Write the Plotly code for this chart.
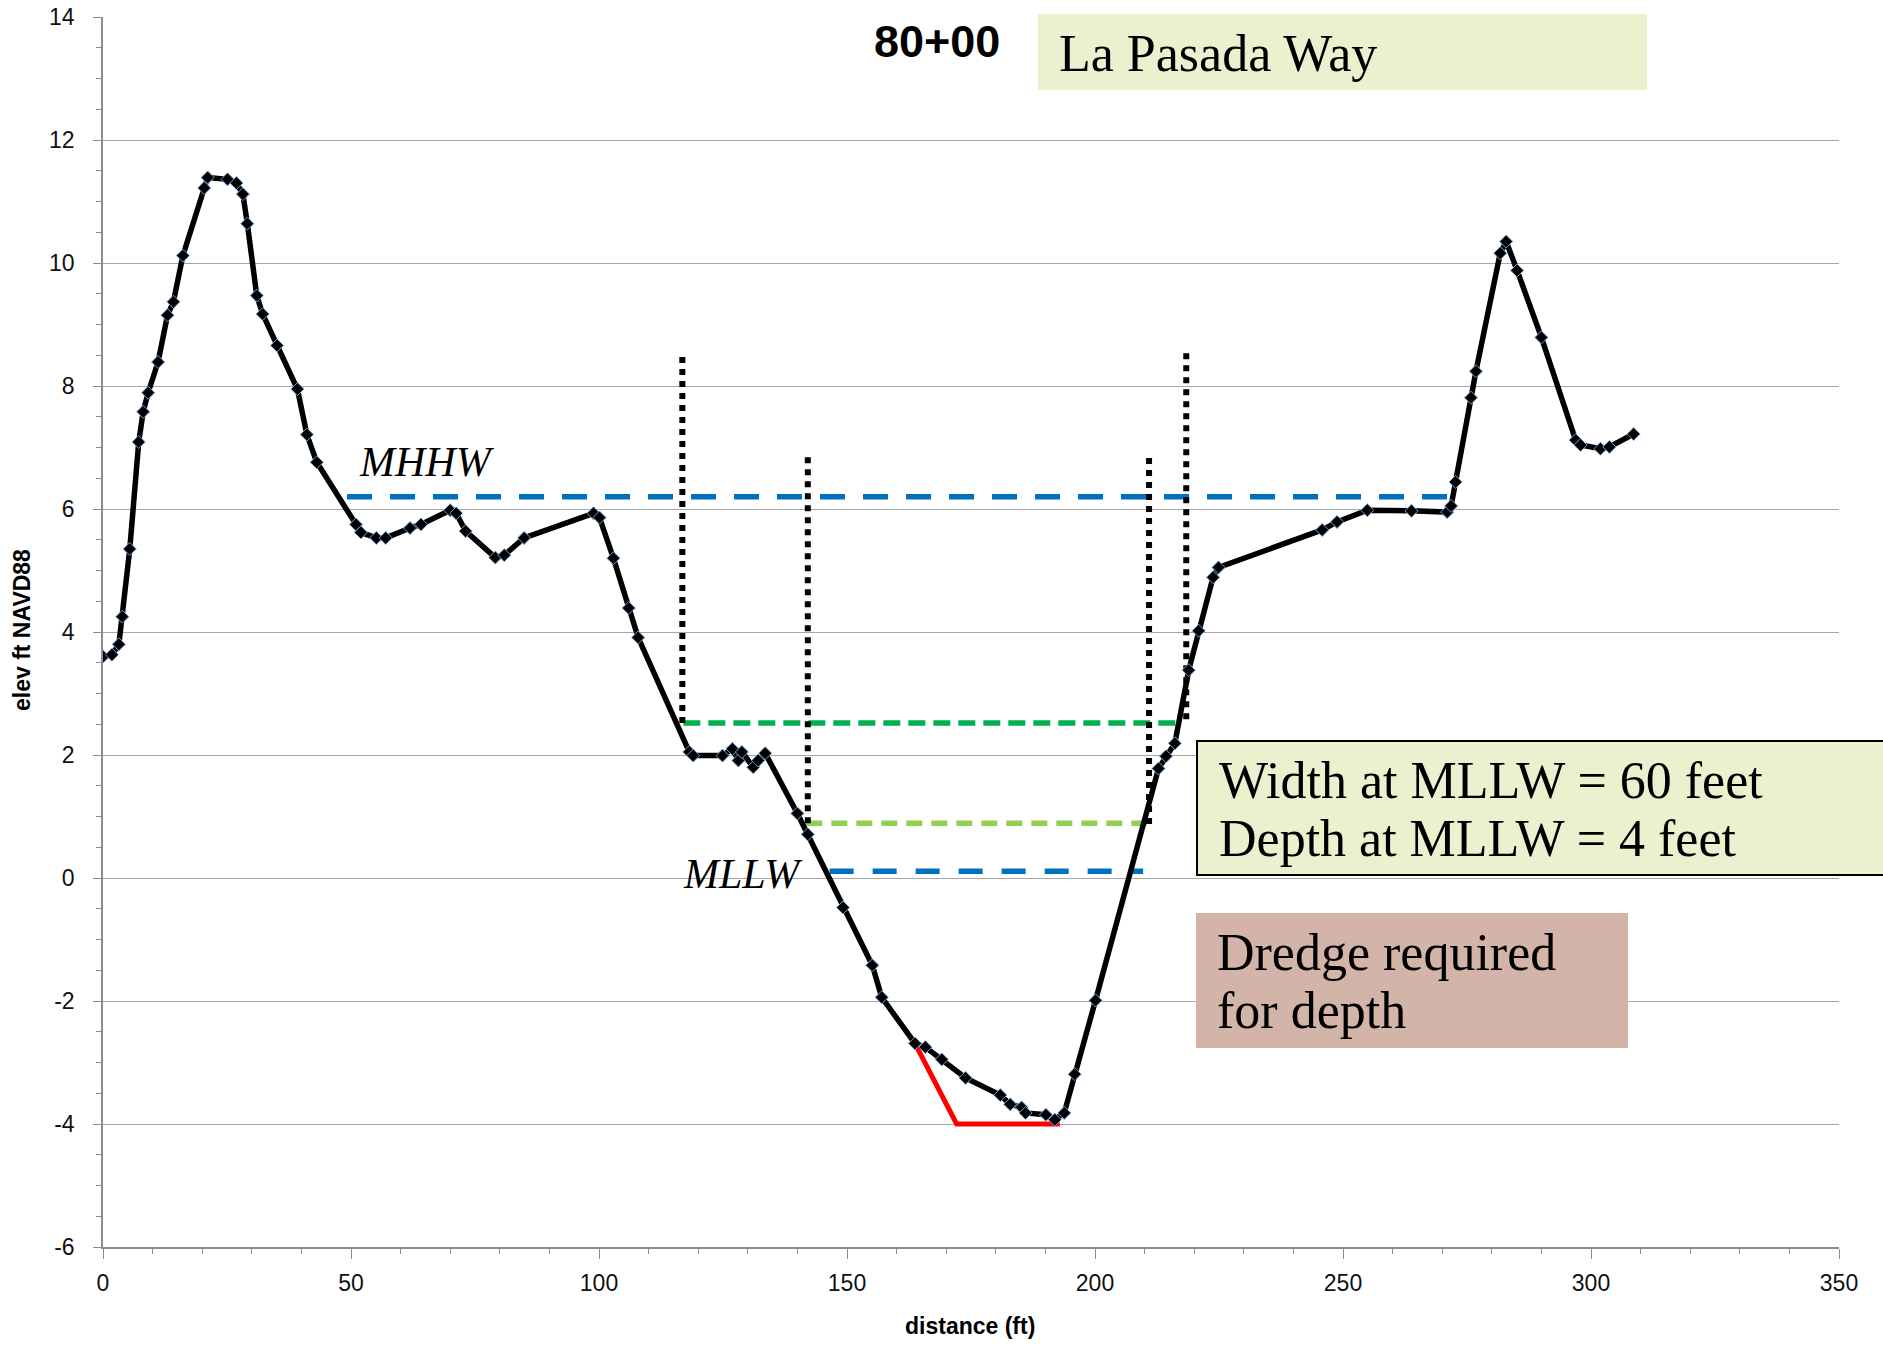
import plotly.graph_objects as go

# ---------------- data ----------------
dist_ft = [0.0, 1.8, 3.2, 3.9, 5.4, 7.2, 8.1, 9.1, 11.1, 13.0, 14.2, 16.1, 20.4, 21.1,
           25.1, 26.9, 28.2, 29.1, 31.0, 32.2, 35.1, 39.2, 41.1, 43.1, 51.0, 52.0,
           55.1, 57.0, 61.9, 64.1, 70.0, 71.2, 73.1, 79.1, 80.9, 84.9, 98.9, 100.1,
           102.9, 106.0, 107.9, 118.2, 119.0, 124.9, 126.9, 128.1, 128.8, 131.1,
           132.1, 133.5, 140.0, 142.1, 149.2, 155.1, 157.0, 163.7, 165.8, 169.1,
           173.9, 180.9, 182.9, 185.2, 186.0, 190.1, 191.9, 193.8, 195.9, 200.1,
           212.8, 214.3, 216.1, 218.9, 220.9, 223.8, 224.9, 245.8, 248.8, 254.9,
           263.8, 271.0, 271.8, 272.7, 275.8, 276.8, 281.7, 282.9, 285.1, 290.0,
           296.9, 297.9, 301.9, 303.7, 308.6]
elev_ft = [3.60, 3.63, 3.80, 4.25, 5.35, 7.09, 7.58, 7.89, 8.39, 9.15, 9.37, 10.12, 11.22, 11.39,
           11.36, 11.30, 11.12, 10.64, 9.47, 9.17, 8.66, 7.95, 7.21, 6.76, 5.75, 5.62,
           5.53, 5.53, 5.69, 5.75, 5.98, 5.93, 5.64, 5.21, 5.25, 5.53, 5.93, 5.86,
           5.20, 4.39, 3.91, 2.05, 1.99, 1.99, 2.10, 1.91, 2.05, 1.80,
           1.91, 2.03, 1.05, 0.71, -0.48, -1.42, -1.94, -2.69, -2.75, -2.95,
           -3.25, -3.53, -3.68, -3.73, -3.82, -3.85, -3.93, -3.82, -3.19, -1.99,
           1.78, 1.98, 2.19, 3.38, 4.02, 4.89, 5.05, 5.66, 5.79, 5.98,
           5.97, 5.95, 6.05, 6.44, 7.81, 8.24, 10.16, 10.35, 9.88, 8.79,
           7.12, 7.04, 6.98, 7.01, 7.22]

dredge_x = [163.7, 172.1, 192.9]
dredge_y = [-2.69, -4.0, -4.0]

mhhw_x = [49.2, 271.1];   mhhw_y = [6.2, 6.2]
green_x = [117.0, 217.7]; green_y = [2.52, 2.52]
lgreen_x = [141.8, 210.4]; lgreen_y = [0.89, 0.89]
mllw_x = [146.5, 209.7];  mllw_y = [0.11, 0.11]

dotted_x = [116.8, 142.1, 210.9, 218.4]
dotted_y0 = [2.52, 0.89, 0.88, 2.58]
dotted_y1 = [8.49, 6.93, 6.83, 8.59]

y_tick_vals = [-6, -4, -2, 0, 2, 4, 6, 8, 10, 12, 14]
y_tick_text = ["-6", "-4", "-2", "0", "2", "4", "6", "8", "10", "12", "14"]
x_tick_vals = [0, 50, 100, 150, 200, 250, 300, 350]
x_tick_text = ["0", "50", "100", "150", "200", "250", "300", "350"]

# ---------------- layout geometry (pixels) ----------------
FW, FH = 1883, 1347
ML, MR, MT, MB = 103, 44, 17, 100
PW, PH = FW - ML - MR, FH - MT - MB
BOTTOM = FH - MB


def px(X):
    return (X - ML) / PW


def py(Y):
    return (BOTTOM - Y) / PH


SERIF = "Liberation Serif, Times New Roman, serif"
SANS = "Liberation Sans, Arial, sans-serif"

fig = go.Figure()

# reference dashed lines
fig.add_trace(go.Scatter(x=mhhw_x, y=mhhw_y, mode="lines",
                         line=dict(color="#0070C0", width=5.5, dash="25px,18px"), hoverinfo="skip"))
fig.add_trace(go.Scatter(x=green_x, y=green_y, mode="lines",
                         line=dict(color="#00B050", width=5.5, dash="17px,8px"), hoverinfo="skip"))
fig.add_trace(go.Scatter(x=lgreen_x, y=lgreen_y, mode="lines",
                         line=dict(color="#92D050", width=5.5, dash="16px,9px"), hoverinfo="skip"))
fig.add_trace(go.Scatter(x=mllw_x, y=mllw_y, mode="lines",
                         line=dict(color="#0070C0", width=5.5, dash="24px,19px"), hoverinfo="skip"))

# dotted verticals
for xv, y0, y1 in zip(dotted_x, dotted_y0, dotted_y1):
    fig.add_trace(go.Scatter(x=[xv, xv], y=[y0, y1], mode="lines",
                             line=dict(color="black", width=6, dash="6px,6px"), hoverinfo="skip"))

# dredge template
fig.add_trace(go.Scatter(x=dredge_x, y=dredge_y, mode="lines",
                         line=dict(color="#FF0000", width=5), hoverinfo="skip"))

# ground profile
fig.add_trace(go.Scatter(x=dist_ft, y=elev_ft, mode="lines+markers",
                         line=dict(color="black", width=5.5),
                         marker=dict(symbol="diamond", size=10, color="black",
                                     line=dict(color="#6FA0D8", width=1))))

shapes = [
    dict(type="rect", xref="paper", yref="paper", x0=px(1038), x1=px(1647), y0=py(90), y1=py(14),
         fillcolor="#EDF0CF", line=dict(width=0), layer="above"),
    dict(type="rect", xref="paper", yref="paper", x0=px(1197), x1=px(1895), y0=py(875), y1=py(741),
         fillcolor="#EDF0CF", line=dict(color="black", width=2), layer="above"),
    dict(type="rect", xref="paper", yref="paper", x0=px(1196), x1=px(1628), y0=py(1048), y1=py(913),
         fillcolor="#D3B4A8", line=dict(width=0), layer="above"),
]


def ann(text, X, Y, size, family, xanchor="left", color="black", angle=0):
    return dict(text=text, xref="paper", yref="paper", x=px(X), y=py(Y), xanchor=xanchor,
                yanchor="middle", showarrow=False, textangle=angle,
                font=dict(size=size, family=family, color=color))


annotations = [
    ann("<b>80+00</b>", 937, 41, 45, SANS, xanchor="center"),
    ann("La Pasada Way", 1057, 53, 52, SERIF),
    ann("<i>MHHW</i>", 357, 462, 42, SERIF),
    ann("<i>MLLW</i>", 681, 874, 42, SERIF),
    ann("Width at MLLW = 60 feet", 1217, 780, 52, SERIF),
    ann("Depth at MLLW = 4 feet", 1217, 838, 52, SERIF),
    ann("Dredge required", 1215, 952, 52, SERIF),
    ann("for depth", 1215, 1010, 52, SERIF),
    ann("<b>distance (ft)</b>", 970, 1326, 23, SANS, xanchor="center"),
    ann("<b>elev ft NAVD88</b>", 22, 630, 23, SANS, xanchor="center", angle=-90),
]

fig.update_layout(
    width=FW, height=FH,
    margin=dict(l=ML, r=MR, t=MT, b=MB, pad=0, autoexpand=False),
    paper_bgcolor="white", plot_bgcolor="white",
    showlegend=False,
    shapes=shapes, annotations=annotations,
    font=dict(family=SANS, size=23, color="#111111"),
)

fig.update_xaxes(range=[0, 350], tickvals=x_tick_vals, ticktext=x_tick_text,
                 showgrid=False, zeroline=False, automargin=False,
                 showline=True, linecolor="#8C8C8C", linewidth=1.5,
                 ticks="outside", ticklen=10, tickwidth=1.3, tickcolor="#8C8C8C",
                 ticklabelstandoff=5,
                 minor=dict(dtick=10, ticks="outside", ticklen=5, tickwidth=1.2,
                            tickcolor="#8C8C8C", showgrid=False),
                 tickfont=dict(size=23, family=SANS, color="#111111"))
fig.update_yaxes(range=[-6, 14], tickvals=y_tick_vals, ticktext=y_tick_text,
                 showgrid=True, gridcolor="#A6A6A6", gridwidth=1.4, zeroline=False,
                 automargin=False,
                 showline=True, linecolor="#8C8C8C", linewidth=1.5,
                 ticks="outside", ticklen=8, tickwidth=1.3, tickcolor="#8C8C8C",
                 ticklabelstandoff=14,
                 minor=dict(dtick=0.5, ticks="outside", ticklen=5, tickwidth=1.2,
                            tickcolor="#8C8C8C", showgrid=False),
                 tickfont=dict(size=23, family=SANS, color="#111111"))

fig.write_html("out.html", config={"displayModeBar": False},
               post_script="document.body.style.margin='0';document.body.style.overflow='hidden';")
